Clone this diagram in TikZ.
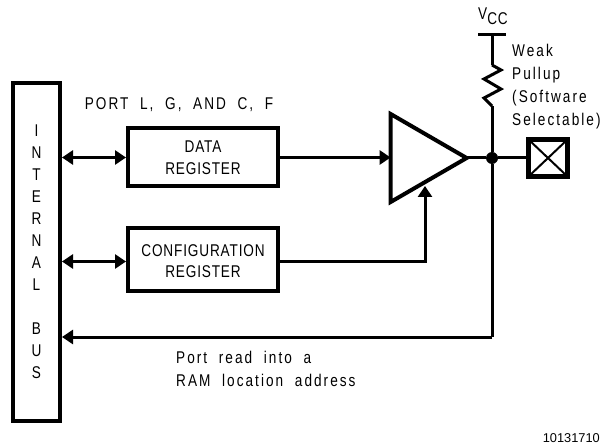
\documentclass[tikz,border=0pt]{standalone}
\usepackage{fontspec}
\setmainfont[FakeStretch=0.8,LetterSpace=5]{Liberation Sans}
\newfontfamily\widefont[FakeStretch=0.8,LetterSpace=12,WordSpace=2]{Liberation Sans}
\newfontfamily\numfont{Liberation Sans}
\usetikzlibrary{arrows.meta,positioning,shapes.geometric}

\tikzset{
  lbl/.style={font=\fontsize{17}{22}\selectfont,align=center,inner sep=0pt},
  widelbl/.style={font=\widefont\fontsize{17}{23}\selectfont,inner sep=0pt},
  regbox/.style={draw,line width=4pt,minimum width=150pt,minimum height=58pt,lbl},
  busbox/.style={draw,line width=4pt,minimum width=47pt,minimum height=338pt,lbl},
  ampl/.style={draw,line width=4pt,isosceles triangle,isosceles triangle apex angle=60,
    isosceles triangle stretches,minimum width=88pt,minimum height=76pt,inner sep=0pt,outer sep=0pt},
  padbox/.style={draw,line width=5pt,minimum width=39pt,minimum height=37pt,path picture={
    \draw[line width=2pt] (path picture bounding box.south west) -- (path picture bounding box.north east);
    \draw[line width=2pt] (path picture bounding box.north west) -- (path picture bounding box.south east);}},
  jdot/.style={circle,fill,inner sep=0pt,minimum size=12pt},
  wire/.style={line width=3pt},
  tip/.style={wire,-{Triangle[length=11pt,width=14pt]}},
  dtip/.style={wire,{Triangle[length=11pt,width=14pt]}-{Triangle[length=11pt,width=14pt]}}
}

\begin{document}
\begin{tikzpicture}[x=1pt,y=-1pt,on grid]
   \useasboundingbox (0,0) rectangle (604,446);

   \node[busbox] (bus) at (36.5,252) {I\\N\\T\\E\\R\\N\\A\\L\\[22pt]B\\U\\S};
   \node[regbox] (data_reg) at (203,157.5) {DATA\\REGISTER};
   \node[regbox,minimum height=63pt] (cfg_reg) [below=102pt of data_reg] {\rule{0pt}{16pt}CONFIGURATION\\[-1pt]REGISTER};
   \node[ampl] (amp) at (416,158) {};
   \node[jdot] (jct) at (492,158) {};
   \node[padbox] (pad) [right=56pt of jct] {};

   \coordinate (vcc) at (492,35);
   \coordinate (vcc_l) at (478,35);
   \coordinate (vcc_r) at (506,35);
   \coordinate (res_top) at (492,65);
   \coordinate (res_bot) at (492,106);
   \coordinate (amp_in) at (425,186);
   \coordinate (rd_turn) at (492,337);
   \coordinate (cfg_out) at ([yshift=-2pt]cfg_reg.center);

   \node[widelbl] (port_lbl) at (179,105) {PORT L, G, AND C, F};
   \node[widelbl,anchor=west] (pull_lbl) at (512,86.5) {\begin{tabular}{@{}l@{}}Weak\\Pullup\\(Software\\Selectable)\end{tabular}};
   \node[lbl] (vcc_lbl) at (493,16) {V\raisebox{-5pt}{CC}};
   \node[widelbl,anchor=west] (read_lbl) at (176,370.5) {\begin{tabular}{@{}l@{}}Port read into a\\RAM location address\end{tabular}};
   \node[font=\numfont\fontsize{12.8}{14}\selectfont,inner sep=0pt,anchor=east] (code_lbl) at (600,438) {10131710};

   \path[dtip]
    (bus.east |- data_reg) edge (data_reg)
    (bus.east |- cfg_out) edge (cfg_reg.west |- cfg_out);
   \path[tip]
    (data_reg) edge (amp.west |- data_reg)
    (rd_turn) edge (bus.east |- rd_turn);
   \draw[tip] (cfg_reg.east |- cfg_out) -| (amp_in);

   \draw[wire] (amp.apex) -- (jct);
   \draw[wire] (jct) -- (pad);
   \draw[wire] (jct) -- (rd_turn);
   \draw[wire] (jct) -- (res_bot);
   \draw[wire] (vcc) -- (res_top);
   \draw[wire] (vcc_l) -- (vcc_r);
   \draw[wire,line join=miter] (res_top) -- ++(9,5) -- ++(-17,9) -- ++(17,10) -- ++(-17,9) -- (res_bot);
\end{tikzpicture}
\end{document}
